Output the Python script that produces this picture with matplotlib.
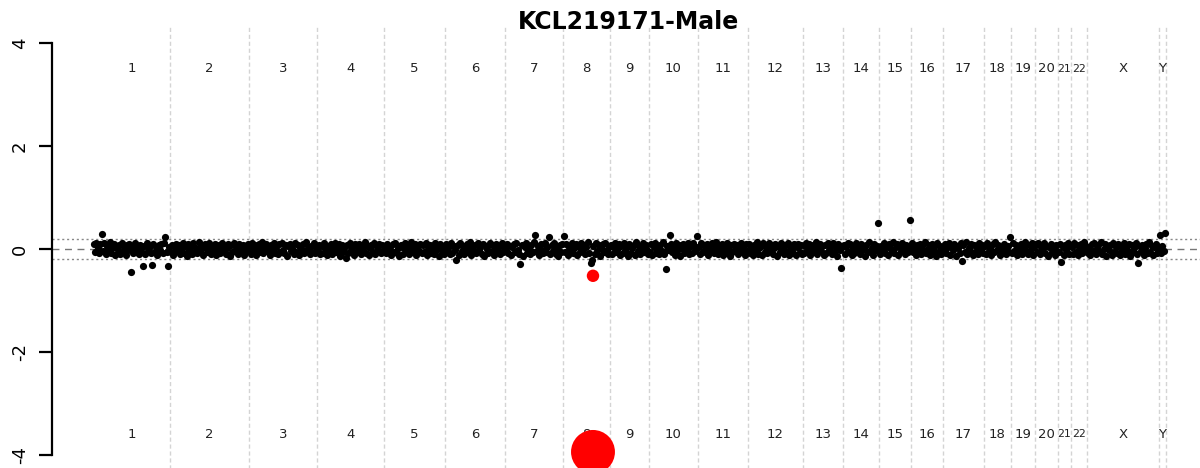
import numpy as np
import matplotlib
matplotlib.use("Agg")
import matplotlib.pyplot as plt

title = "KCL219171-Male"

chrom_names = ["1", "2", "3", "4", "5", "6", "7", "8", "9", "10", "11", "12",
               "13", "14", "15", "16", "17", "18", "19", "20", "21", "22", "X", "Y"]
# relative width of each chromosome on the genome axis (number of bins)
chrom_width = [77, 79, 68, 67, 61, 60, 58, 47, 39, 49, 50, 55,
               40, 36, 32, 32, 41, 27, 24, 23, 13, 16, 72, 7]

# log2 ratio per bin, in hundredths
chr1 = [10, -5, 12, 2, -8, 9, 30, -3, 11, -10, 6, -4, 13, -7, 1, 10, -12, 5, -2, 8, -9, 12, -5, 3, -11, 7, -1, 9,
        -45, 4, -8, 11, -6, 2, -10, 8, -3, -33, 6, -9, 12, -4, 1, -7, -31, 10, -6, 3, -12, 7, -2, 9, -8, 11, 23, -5, -33, 4]
chr2 = [-6, 8, -11, 3, 10, -4, 7, -9, 1, 12, -7, 5, -13, 9, -2, 6, -10, 11, -5, 2, -8, 13, -3, 7, -12, 4, 9, -6, 0, 11,
        -9, 5, -4, 10, -11, 3, 8, -7, 12, -1, 6, -10, 2, 9, -13, 7, -5, 11, -3, 4, -9, 10, -6, 1, 8, -12, 5, -4, 9]
chr3 = [4, -9, 11, -3, 7, -12, 2, 9, -6, 13, -8, 1, 10, -4, 6, -11, 8, -2, 12, -7, 3, -10, 9, -5, 11, -1, -8, 7, -13, 5,
        10, -3, 2, -9, 12, -6, 8, -11, 4, -2, 9, -7, 13, -4, 1, -10, 6, -5, 11, -8, 3]
chr4 = [-3, 8, -10, 5, -7, 12, 0, -12, 6, -4, 9, -9, 3, 11, -6, -1, 10, -13, 7, -5, 2, -18, 8, -8, 12, -2, 4, -11, 9, -6,
        1, 10, -9, 5, -3, 13, -7, 6, -12, 2, 8, -5, 11, -10, 3, -1, 9, -8, 7, -4]
chr5 = [6, -8, 10, -2, 4, -11, 9, -5, 12, -7, 1, -13, 8, 3, -9, 11, -4, 6, -10, 2, 13, -6, -1, 9, -12, 5, -3, 10, -8, 7,
        -5, 12, -11, 0, 8, -7, 4, -9, 11, -2, 6, -13, 9, -4, 3, -10]
chr6 = [9, -5, 2, -10, 12, -7, 5, -1, -22, 8, -12, 11, -3, 6, -9, 1, 10, -6, 13, -11, 4, -4, 7, -8, 12, -2, 3, -10, 9, -13,
        6, 0, -7, 11, -5, 8, -12, 2, 10, -3, 5, -9, 12, -6, 1]
chr7 = [-4, 10, -8, 5, -11, 3, 9, -6, 12, -2, -9, -29, 7, -13, 4, 11, -7, 1, -10, 8, -5, 13, 27, -3, 6, -12, 9, -1, -8, 11,
        -6, 3, 24, -10, 7, -4, 12, -9, 2, -13, 8, -5, 10]
chr8 = [26, -6, 9, -11, 4, -3, 12, -8, 1, 10, -12, 6, -5, 11, -2, 8, -10, 3, 13, -7, -28, -22, 5, -9, 11, -4, 7, -13, 2, 9,
        -6, 12, -1, -10, 6]
chr9 = [8, -10, 3, 12, -5, -1, 9, -12, 6, -7, 11, -3, 4, -13, 10, -8, 2, 7, -11, 13, -4, 5, -9, 1, 12, -6, 8, -2, -10]
chr10 = [-5, 9, -12, 4, 11, -7, 2, -10, 8, -3, 13, -9, -39, 6, -1, 28, 10, -6, 3, -11, 12, -4, 7, -13, 1, 9, -8, 5, -2, 11,
         -10, 6, -7, 12, -3, 4, 26]
chr11 = [3, -9, 12, -6, 8, -1, 10, -12, 5, -4, 11, -8, 2, 13, -10, 6, -3, 9, -11, 4, -7, 12, 0, -13, 7, -5, 10, -2, 8, -9,
         1, 11, -6, 3, -12, 9, -4]
chr12 = [10, -7, 4, -11, 8, -2, 13, -9, 1, 6, -12, 11, -5, 3, -8, 12, -3, 7, -10, 2, 9, -13, 5, -6, 11, -1, -9, 8, -4, 12,
         -11, 6, 0, -7, 10, -12, 3, 9, -5, 7, -10]
chr13 = [-8, 5, 12, -4, 9, -11, 2, 7, -6, 13, -10, 1, 10, -3, 6, -12, 8, -7, 11, -1, 4, -9, 12, -5, 3, -13, 9, -2, -36, 6]
chr14 = [7, -10, 3, 11, -5, 9, -12, 1, -7, 12, -3, 6, -9, 10, -1, 4, -13, 8, -6, 13, -4, 2, -11, 9, -2, 5, 50]
chr15 = [-9, 6, -2, 11, -8, 4, -12, 9, 1, -5, 13, -7, 3, 10, -11, 6, -4, 12, -1, -10, 8, -6, 2, 57]
chr16 = [11, -6, 3, -12, 8, -1, 10, -9, 5, -4, 13, -8, 0, 7, -11, 9, -3, 4, -13, 12, -5, 6, -10, 2]
chr17 = [-4, 10, -8, 3, 12, -11, 6, -2, 9, -13, 5, 1, -7, 11, -24, 8, -5, 13, -9, 2, -3, 10, -12, 7, -6, 4, -10, 11, -1, 8, -8]
chr18 = [6, -9, 12, -4, 1, -11, 9, -6, 13, -2, 7, -12, 4, -8, 10, -1, -10, 5, -5, 24]
chr19 = [-7, 11, -3, 8, -12, 5, -1, 10, -9, 2, 13, -6, -10, 7, -4, 12, -11, 3]
chr20 = [9, -5, 12, -10, 3, -1, 11, -8, 6, -13, 4, 10, -6, 1, -12, 8, -3]
chr21 = [-6, 10, -26, 4, -11, 8, -2, 12, -9, 5]
chr22 = [3, -10, 11, -5, 8, -12, 1, 9, -7, 13, -3, 6]
chrX = [-8, 4, -12, 9, -3, 11, -10, 2, 7, -6, 13, -9, 0, 10, -13, 5, -2, 8, -11, 12, -5, 3, -7, 9, -12, 6, -1, 11, -9, 4,
        -4, 10, -13, 7, -6, 2, 12, -10, -27, 5, -3, 8, -11, 1, 9, -7, 13, -5, 6, -12, 3, 10, -8, 2]
chrY = [27, -8, 5, -3, 31]

chrom_values = [chr1, chr2, chr3, chr4, chr5, chr6, chr7, chr8, chr9, chr10, chr11, chr12,
                chr13, chr14, chr15, chr16, chr17, chr18, chr19, chr20, chr21, chr22, chrX, chrY]

# highlighted segment on chr8 (bin position inside the chromosome)
hit_chrom = "8"
hit_bin = 30
hit_values = [-0.52, -3.94]
hit_sizes = [80, 1000]

bounds = np.concatenate([[0], np.cumsum(chrom_width)])
mids = (bounds[:-1] + bounds[1:]) / 2

xs, ys = [], []
for start, w, vals in zip(bounds[:-1], chrom_width, chrom_values):
    n = len(vals)
    xs.append(start + (np.arange(n) + 0.5) * w / n)
    ys.append(np.array(vals) / 100.0)
xs = np.concatenate(xs)
ys = np.concatenate(ys)

fig = plt.figure(figsize=(12, 4.68), dpi=100)
ax = fig.add_axes([52 / 1200, 0, 1148 / 1200, 1])
total = bounds[-1]
ax.set_xlim(-0.0382 * total, 1.0317 * total)
ax.set_ylim(-4.252, 4.835)

# chromosome boundaries
for b in bounds[1:]:
    ax.plot([b, b], [-4.32, 4.32], color="#d4d4d4", lw=1, ls=(0, (3, 2)), zorder=1)

ax.axhline(0, color="#777777", lw=1, ls=(0, (5, 4)), zorder=1)
for h in (0.2, -0.2):
    ax.axhline(h, color="#888888", lw=1, ls=(0, (1.5, 2)), zorder=1)

ax.scatter(xs, ys, s=27, color="black", linewidths=0, zorder=3)

hx = bounds[chrom_names.index(hit_chrom)] + hit_bin
ax.scatter([hx] * len(hit_values), hit_values, s=hit_sizes, color="#ff0000",
           linewidths=0, zorder=4, clip_on=False)

# labels squeezed between close neighbours get a smaller font
gaps = np.diff(mids)
near = np.minimum(np.concatenate([[np.inf], gaps]), np.concatenate([gaps, [np.inf]]))
for m, g, name in zip(mids, near, chrom_names):
    fs = 9.5 if g >= 16 else 7.8
    ax.text(m, 3.5, name, ha="center", va="center", fontsize=fs, color="#222222")
    ax.text(m, -3.6, name, ha="center", va="center", fontsize=fs, color="#222222")

for s in ["top", "right", "bottom"]:
    ax.spines[s].set_visible(False)
ax.spines["left"].set_bounds(-4, 4)
ax.spines["left"].set_linewidth(1.6)
ax.set_xticks([])
ax.set_yticks([-4, -2, 0, 2, 4])
ax.set_yticklabels(["-4", "-2", "0", "2", "4"], rotation=90, va="center", fontsize=13)
ax.tick_params(axis="y", length=9.5, width=1.6, pad=7)

fig.text(628 / 1200, 1 - 22 / 468, title, ha="center", va="center", fontsize=17, fontweight="bold")

fig.savefig("out.png", dpi=100)
